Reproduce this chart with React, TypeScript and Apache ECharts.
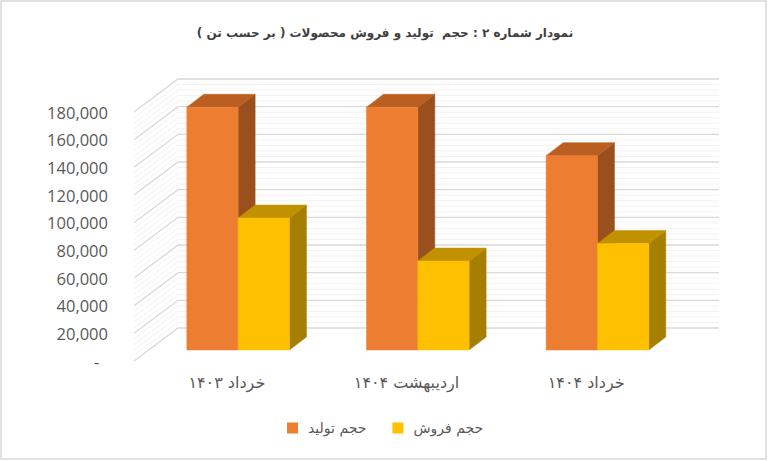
import React, { useEffect, useRef } from "react";
import * as echarts from "echarts";

const titleText = "نمودار شماره ۲ : حجم  تولید و فروش محصولات ( بر حسب تن )";
const categories = ["خرداد ۱۴۰۳", "اردیبهشت ۱۴۰۴", "خرداد ۱۴۰۴"];
const productionName = "حجم تولید";
const salesName = "حجم فروش";
const production = [175500, 175500, 140500];
const sales = [95400, 64300, 77000];
const majorStep = 20000;
const minorStep = 4000;
const axisMax = 180000;

const wallDx = 44;
const wallDy = -33;
const wallRightExtra = 2;
const barFrontDx = 14.3;
const barFrontDy = -11;
const barDepthDx = 17;
const barDepthDy = -13;
const barFraction = 0.2855;

function wallValues() {
  const out: number[] = [];
  for (let v = 0; v <= axisMax; v += minorStep) {
    if (v % majorStep !== 0) out.push(v);
  }
  for (let v = 0; v <= axisMax; v += majorStep) out.push(v);
  return out;
}

function pts(list: number[][], fill: string) {
  return { type: "polygon", shape: { points: list }, style: { fill, stroke: fill, lineWidth: 0.5 } };
}

function barSeries(name: string, values: number[], side: number, front: string, top: string, dark: string, z: number) {
  return {
    type: "custom",
    name,
    z,
    itemStyle: { color: front },
    data: values.map((v, i) => [i, v]),
    renderItem: (_p: any, api: any) => {
      const base = api.coord([api.value(0), 0]);
      const head = api.coord([api.value(0), api.value(1)]);
      const w = api.size([1, 0])[0] * barFraction;
      const x0 = base[0] + barFrontDx + (side < 0 ? -w : 0);
      const x1 = x0 + w;
      const yb = base[1] + barFrontDy;
      const yt = head[1] + barFrontDy;
      return {
        type: "group",
        children: [
          pts([[x1, yt], [x1 + barDepthDx, yt + barDepthDy], [x1 + barDepthDx, yb + barDepthDy], [x1, yb]], dark),
          pts([[x0, yt], [x0 + barDepthDx, yt + barDepthDy], [x1 + barDepthDx, yt + barDepthDy], [x1, yt]], top),
          pts([[x0, yb], [x0, yt], [x1, yt], [x1, yb]], front),
        ],
      };
    },
  };
}

export default function App() {
  const ref = useRef<HTMLDivElement>(null);
  useEffect(() => {
    document.body.style.margin = "0";
    const chart = echarts.init(ref.current!, undefined, { renderer: "svg" });
    const persian = "DejaVu Sans";
    chart.setOption({
      animation: false,
      backgroundColor: "#ffffff",
      title: {
        text: titleText,
        left: 385,
        top: 27,
        padding: 0,
        textAlign: "center",
        textStyle: { fontFamily: persian, fontWeight: "bold", fontSize: 12, color: "#404040" },
      },
      legend: {
        data: [productionName, salesName],
        left: 287,
        top: 421,
        padding: 0,
        icon: "rect",
        itemWidth: 11,
        itemHeight: 11,
        itemGap: 26,
        textStyle: { fontFamily: persian, fontSize: 14, color: "#595959", padding: [0, 0, 0, 5] },
      },
      grid: { left: 134, top: 112, width: 539, height: 249, containLabel: false },
      xAxis: {
        type: "category",
        data: categories,
        axisLine: { show: false },
        axisTick: { show: false },
        axisLabel: { fontFamily: persian, fontSize: 16, color: "#595959", margin: 13, padding: [0, 0, 0, 6] },
      },
      yAxis: {
        type: "value",
        min: 0,
        max: axisMax,
        interval: majorStep,
        axisLine: { show: false },
        axisTick: { show: false },
        splitLine: { show: false },
        axisLabel: {
          fontFamily: "Open Sans",
          fontSize: 16.5,
          color: "#595959",
          margin: 26,
          formatter: (v: number) => (v === 0 ? "-\u00a0\u00a0" : v.toLocaleString("en-US")),
        },
      },
      series: [
        {
          type: "custom",
          name: "wall",
          silent: true,
          z: 1,
          data: wallValues().map((v) => [0, v]),
          renderItem: (p: any, api: any) => {
            const v = api.value(1);
            const major = v % majorStep === 0;
            const y = api.coord([0, v])[1];
            const x0 = p.coordSys.x;
            const x1 = x0 + p.coordSys.width + wallRightExtra;
            return {
              type: "polyline",
              shape: { points: [[x0, y], [x0 + wallDx, y + wallDy], [x1 + wallDx, y + wallDy]] },
              style: { fill: "none", stroke: major ? "#d9d9d9" : "#f2f2f2", lineWidth: major ? 1.3 : 1 },
            };
          },
        },
        barSeries(productionName, production, -1, "#ED7D31", "#BA5E22", "#9A501D", 3),
        barSeries(salesName, sales, 1, "#FFC000", "#C29100", "#A67E00", 4),
      ],
      graphic: [
        {
          type: "rect",
          silent: true,
          z: -1,
          shape: { x: 1, y: 1, width: 765, height: 458 },
          style: { fill: "none", stroke: "#d9d9d9", lineWidth: 1.5 },
        },
      ],
    });
    return () => chart.dispose();
  }, []);
  return <div ref={ref} style={{ width: 768, height: 461 }} />;
}
